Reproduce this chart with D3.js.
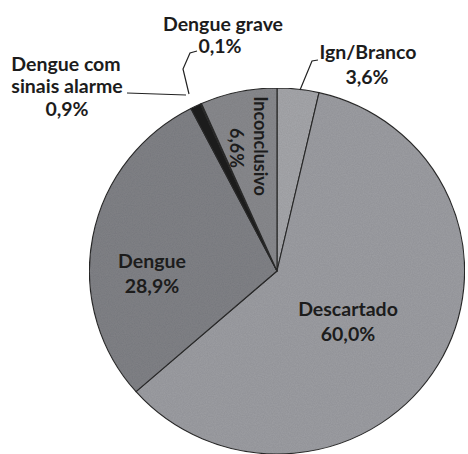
<!DOCTYPE html>
<meta charset="utf-8">
<style>
  body { margin: 0; background: #fff; }
  text { font-family: Lato, "Open Sans", sans-serif; font-weight: bold; fill: #1c1c1c; }
</style>
<svg id="chart" width="468" height="454"></svg>
<script src="https://cdn.jsdelivr.net/npm/d3@7"></script>
<script>
// slices, clockwise from 12 o'clock
const categories = ["Ign/Branco", "Descartado", "Dengue", "Dengue com sinais alarme", "Dengue grave", "Inconclusivo"];
const values = [3.6, 60.0, 28.9, 0.9, 0.1, 6.6];
const valueLabels = ["3,6%", "60,0%", "28,9%", "0,9%", "0,1%", "6,6%"];

const fills = ["#a6a7ab", "#9d9ea3", "#818287", "#1e1e1e", "#3a3a3a", "#898a8e"];

const cx = 277, cy = 271, r = 183;

const svg = d3.select("#chart");

// scanned look: light grain
const defs = svg.append("defs");
const f = defs.append("filter").attr("id", "grain").attr("x", 0).attr("y", 0).attr("width", 1).attr("height", 1);
f.append("feTurbulence").attr("type", "fractalNoise").attr("baseFrequency", 0.9).attr("numOctaves", 2).attr("seed", 3).attr("result", "n");
f.append("feColorMatrix").attr("in", "n").attr("type", "matrix")
  .attr("values", "0 0 0 0 0.5  0 0 0 0 0.5  0 0 0 0 0.5  0 0 0 0.35 0").attr("result", "g");
f.append("feComposite").attr("in", "g").attr("in2", "SourceGraphic").attr("operator", "in").attr("result", "gc");
f.append("feBlend").attr("in", "SourceGraphic").attr("in2", "gc").attr("mode", "multiply");

const pie = d3.pie().sort(null).value(d => d)(values);
const arc = d3.arc().innerRadius(0).outerRadius(r);

const g = svg.append("g")
  .attr("transform", `translate(${cx},${cy}) scale(1.025,1)`);

g.append("g").attr("filter", "url(#grain)")
  .selectAll("path")
  .data(pie)
  .join("path")
    .attr("d", arc)
    .attr("fill", (d, i) => fills[i])
    .attr("stroke", "#2a2a2a")
    .attr("stroke-width", 1.1)
    .attr("stroke-linejoin", "round");

// leader lines
const leaders = [
  [[318, 60], [312, 61], [300, 90]],
  [[197, 51], [190, 53], [183, 69], [189, 94]],
  [[127, 93], [186, 95]]
];
svg.append("g").selectAll("path")
  .data(leaders)
  .join("path")
    .attr("d", d3.line().curve(d3.curveLinear))
    .attr("fill", "none")
    .attr("stroke", "#222")
    .attr("stroke-width", 1.2);

// labels
const labels = [
  {lines: ["Dengue grave", valueLabels[4]], x: [223, 220], y: [31, 53]},
  {lines: ["Dengue com", "sinais alarme", valueLabels[3]], x: [66, 67, 67], y: [71, 93, 116]},
  {lines: ["Ign/Branco", valueLabels[0]], x: [368, 367], y: [59, 84]},
  {lines: ["Dengue", valueLabels[2]], x: [152, 152], y: [268, 293]},
  {lines: ["Descartado", valueLabels[1]], x: [348, 348], y: [316, 341]}
];
labels.forEach(l => {
  l.lines.forEach((t, i) => {
    svg.append("text")
      .attr("x", l.x[i]).attr("y", l.y[i])
      .attr("text-anchor", "middle")
      .style("font-size", "19.5px")
      .text(t);
  });
});

// rotated label inside Inconclusivo slice
[[categories[5], 254, 146], [valueLabels[5], 230, 148]].forEach(([t, x, y]) => {
  svg.append("text")
    .attr("transform", `translate(${x},${y}) rotate(90)`)
    .attr("text-anchor", "middle")
    .style("font-size", "18px")
    .text(t);
});
</script>
